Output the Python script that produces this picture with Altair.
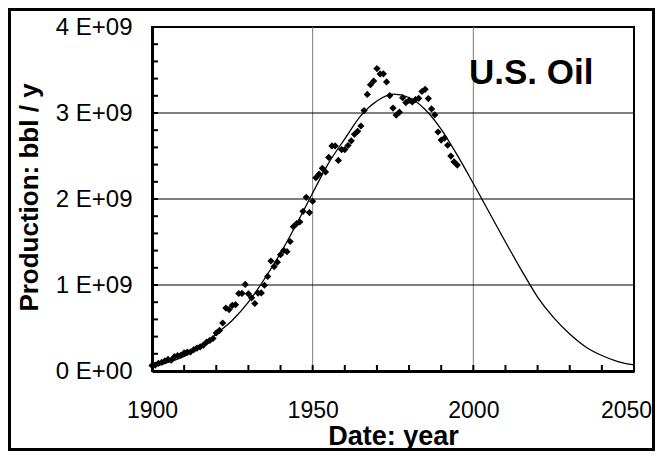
import altair as alt
import pandas as pd

# ---- data (billion barrels per year) ----
data_years = list(range(1900, 1996))
production = [
    0.064, 0.069, 0.089, 0.100, 0.117, 0.135, 0.126, 0.166, 0.179, 0.183,
    0.210, 0.220, 0.223, 0.248, 0.266, 0.281, 0.301, 0.335, 0.356, 0.378,
    0.443, 0.472, 0.558, 0.732, 0.714, 0.764, 0.771, 0.901, 0.902, 1.007,
    0.898, 0.851, 0.785, 0.906, 0.908, 0.997, 1.100, 1.279, 1.214, 1.265,
    1.353, 1.402, 1.387, 1.506, 1.678, 1.714, 1.734, 1.857, 2.020, 1.842,
    1.974, 2.248, 2.290, 2.357, 2.315, 2.484, 2.617, 2.617, 2.449, 2.575,
    2.575, 2.622, 2.676, 2.753, 2.787, 2.849, 3.028, 3.216, 3.329, 3.372,
    3.517, 3.454, 3.455, 3.361, 3.203, 3.057, 2.976, 3.009, 3.178, 3.121,
    3.146, 3.129, 3.157, 3.171, 3.250, 3.275, 3.168, 3.047, 2.979, 2.779,
    2.685, 2.707, 2.625, 2.499, 2.432, 2.394,
]

curve_years = list(range(1900, 2051, 5))
curve_values = [
    0.05, 0.10, 0.17, 0.27, 0.43, 0.59, 0.80, 1.07, 1.37, 1.71,
    2.07, 2.42, 2.70, 2.97, 3.14, 3.22, 3.18, 3.04, 2.81, 2.51,
    2.18, 1.84, 1.50, 1.17, 0.86, 0.62, 0.43, 0.28, 0.18, 0.11, 0.07,
]

x_label_values = [1900, 1950, 2000, 2050]
y_label_values = [0, 1, 2, 3, 4]
x_grid_values = [1950, 2000]
y_grid_values = [1, 2, 3]
x_minor_ticks = list(range(1900, 2051, 10))
y_minor_ticks = [round(i * 0.2, 1) for i in range(21)]

title_text = ["U.S. Oil"]
title_pos_year = [2018]
title_pos_value = [3.47]

W, H = 482, 344
FONT = "Liberation Sans"

pts = pd.DataFrame({"year": data_years, "prod": production})
crv = pd.DataFrame({"year": curve_years, "prod": curve_values})
xg = pd.DataFrame({"year": x_grid_values})
yg = pd.DataFrame({"prod": y_grid_values})
xt = pd.DataFrame({"year": x_minor_ticks})
yt = pd.DataFrame({"prod": y_minor_ticks})
lab = pd.DataFrame({"year": title_pos_year, "prod": title_pos_value, "t": title_text})
one = pd.DataFrame({"a": [0]})

xscale = alt.Scale(domain=[1900, 2050], nice=False, zero=False)
yscale = alt.Scale(domain=[0, 4], nice=False, zero=False)

xaxis = alt.Axis(
    values=x_label_values, ticks=False, grid=False, format="d",
    domainColor="black", domainWidth=3, labelFontSize=23, labelFont=FONT,
    labelColor="black", labelPadding=28, labelFlush=False, labelOverlap=False,
    labelOffset={"condition": {"test": "datum.value == 2050", "value": -8}, "value": 0},
    title="Date: year", titleFont=FONT, titleFontSize=27, titleFontWeight="bold",
    titleColor="black", titleY=73, titleBaseline="alphabetic",
)
yaxis = alt.Axis(
    values=y_label_values, ticks=False, grid=False,
    labelExpr="datum.value == 0 ? '0 E+00' : datum.value + ' E+09'",
    domainColor="black", domainWidth=3, labelFontSize=24, labelFont=FONT,
    labelColor="black", labelPadding=20, labelFlush=False, labelOverlap=False,
    title="Production: bbl / y", titleFont=FONT, titleFontSize=26,
    titleFontWeight="bold", titleColor="black", titleAngle=270,
    titleX=-115, titleY=H / 2 - 2, titleBaseline="alphabetic", titleAlign="center",
)

X = alt.X("year:Q", scale=xscale, axis=xaxis)
Y = alt.Y("prod:Q", scale=yscale, axis=yaxis)

vgrid = alt.Chart(xg).mark_rule(color="#7a7a7a", strokeWidth=1).encode(
    x=alt.X("year:Q", scale=xscale, axis=xaxis))
hgrid = alt.Chart(yg).mark_rule(color="black", strokeWidth=1).encode(
    y=alt.Y("prod:Q", scale=yscale, axis=yaxis))
curve = alt.Chart(crv).mark_line(color="black", strokeWidth=1.3, interpolate="monotone").encode(x=X, y=Y)
points = alt.Chart(pts).mark_point(shape="diamond", filled=True, size=52, color="black", opacity=1).encode(x=X, y=Y)
xticks = alt.Chart(xt).mark_rule(color="black", strokeWidth=2).encode(
    x=alt.X("year:Q", scale=xscale, axis=xaxis), y=alt.value(H), y2=alt.value(H - 6))
yticks = alt.Chart(yt).mark_rule(color="black", strokeWidth=2).encode(
    y=alt.Y("prod:Q", scale=yscale, axis=yaxis), x=alt.value(0), x2=alt.value(6))
label = alt.Chart(lab).mark_text(
    font=FONT, fontSize=35, fontWeight="bold", color="black", align="center", baseline="middle"
).encode(x=alt.X("year:Q", scale=xscale, axis=xaxis), y=alt.Y("prod:Q", scale=yscale, axis=yaxis), text="t:N")
border = alt.Chart(one).mark_rect(fillOpacity=0, stroke="black", strokeWidth=3).encode(
    x=alt.value(-142.5), x2=alt.value(501.5), y=alt.value(-17.5), y2=alt.value(422.5))

chart = alt.layer(vgrid, hgrid, curve, points, xticks, yticks, label, border).properties(
    width=W, height=H,
    autosize=alt.AutoSizeParams(type="none"),
    padding={"left": 144, "top": 19, "right": 21, "bottom": 80},
    background="white",
).configure_view(stroke="black", strokeWidth=2)

chart.save("out.html", embed_options={"renderer": "svg", "actions": False})
